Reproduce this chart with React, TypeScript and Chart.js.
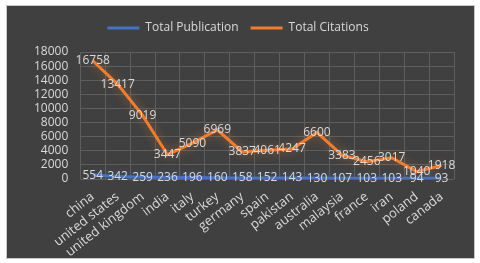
import React, { useEffect, useRef } from "react";
import { Chart, registerables } from "chart.js";

Chart.register(...registerables);

const countries = ["china", "united states", "united kingdom", "india", "italy", "turkey", "germany", "spain", "pakistan", "australia", "malaysia", "france", "iran", "poland", "canada"];
const publications = [554, 342, 259, 236, 196, 160, 158, 152, 143, 130, 107, 103, 103, 94, 93];
const citations = [16758, 13417, 9019, 3447, 5090, 6969, 3837, 4061, 4247, 6600, 3383, 2456, 3017, 1040, 1918];
const yMax = 18000;
const yStep = 2000;

const FONT = "'Open Sans', sans-serif";
const TEXT = "#d9d9d9";

const glowPlugin = {
  id: "glow",
  beforeLayout(chart: any) {
    const lg = chart.legend;
    if (lg && !lg.__patched) {
      const orig = lg.fit;
      lg.fit = function () {
        orig.call(this);
        this.height += 8;
      };
      lg.__patched = true;
    }
  },
  beforeDatasetDraw(chart: any, args: any) {
    const ctx = chart.ctx;
    ctx.save();
    const c = args.index === 1 ? "rgba(237,125,49,0.55)" : "rgba(68,114,196,0.55)";
    ctx.shadowColor = c;
    ctx.shadowBlur = 10;
  },
  afterDatasetDraw(chart: any) {
    chart.ctx.restore();
  },
};

const labelPlugin = {
  id: "valueLabels",
  afterDatasetsDraw(chart: any) {
    const ctx = chart.ctx;
    ctx.save();
    ctx.font = `12px ${FONT}`;
    ctx.fillStyle = TEXT;
    ctx.textAlign = "center";
    ctx.textBaseline = "middle";
    chart.data.datasets.forEach((ds: any, i: number) => {
      const meta = chart.getDatasetMeta(i);
      meta.data.forEach((pt: any, j: number) => {
        ctx.fillText(String(ds.data[j]), pt.x, pt.y);
      });
    });
    ctx.restore();
  },
};

export default function App() {
  const ref = useRef<HTMLCanvasElement>(null);
  useEffect(() => {
    if (!ref.current) return;
    const chart = new Chart(ref.current, {
      type: "line",
      data: {
        labels: countries,
        datasets: [
          { label: "Total Publication", data: publications, borderColor: "#4472C4", backgroundColor: "#4472C4", borderWidth: 3, pointRadius: 0, tension: 0 },
          { label: "Total Citations", data: citations, borderColor: "#ED7D31", backgroundColor: "#ED7D31", borderWidth: 3, pointRadius: 0, tension: 0 },
        ],
      },
      options: {
        responsive: false,
        animation: false,
        layout: { padding: { left: 15, right: 20, top: 4, bottom: 0 } },
        plugins: {
          legend: {
            position: "top",
            labels: {
              color: TEXT,
              font: { family: FONT, size: 12 },
              boxWidth: 32,
              boxHeight: 0,
              padding: 12,
              generateLabels(chart: any) {
                return chart.data.datasets.map((d: any, i: number) => ({
                  text: d.label,
                  fillStyle: d.borderColor,
                  strokeStyle: d.borderColor,
                  lineWidth: 3,
                  fontColor: TEXT,
                  datasetIndex: i,
                  hidden: false,
                }));
              },
            },
          },
          tooltip: { enabled: false },
        },
        scales: {
          x: {
            offset: true,
            grid: { color: "#5e5e5e", offset: true, drawTicks: false },
            border: { display: false },
            ticks: { color: TEXT, font: { family: FONT, size: 13 }, minRotation: 38, maxRotation: 38, autoSkip: false, padding: 10 },
            afterFit(scale: any) {
              scale.height = 79;
            },
          },
          y: {
            min: 0,
            max: yMax,
            grid: { color: "#5e5e5e", drawTicks: false },
            border: { display: false },
            ticks: { color: TEXT, font: { family: FONT, size: 12 }, padding: 12, stepSize: yStep, autoSkip: false, callback: (v: any) => String(v) },
          },
        },
      },
      plugins: [glowPlugin, labelPlugin],
    });
    return () => chart.destroy();
  }, []);
  return (
    <div style={{ position: "absolute", left: 0, top: 0, width: 480, height: 263, background: "#fff" }}>
      <div style={{ position: "absolute", left: 6, top: 5, width: 467, height: 252, background: "#404040", border: "1px solid #c8c8c8" }}>
        <canvas ref={ref} width={467} height={252} style={{ display: "block" }} />
      </div>
    </div>
  );
}
